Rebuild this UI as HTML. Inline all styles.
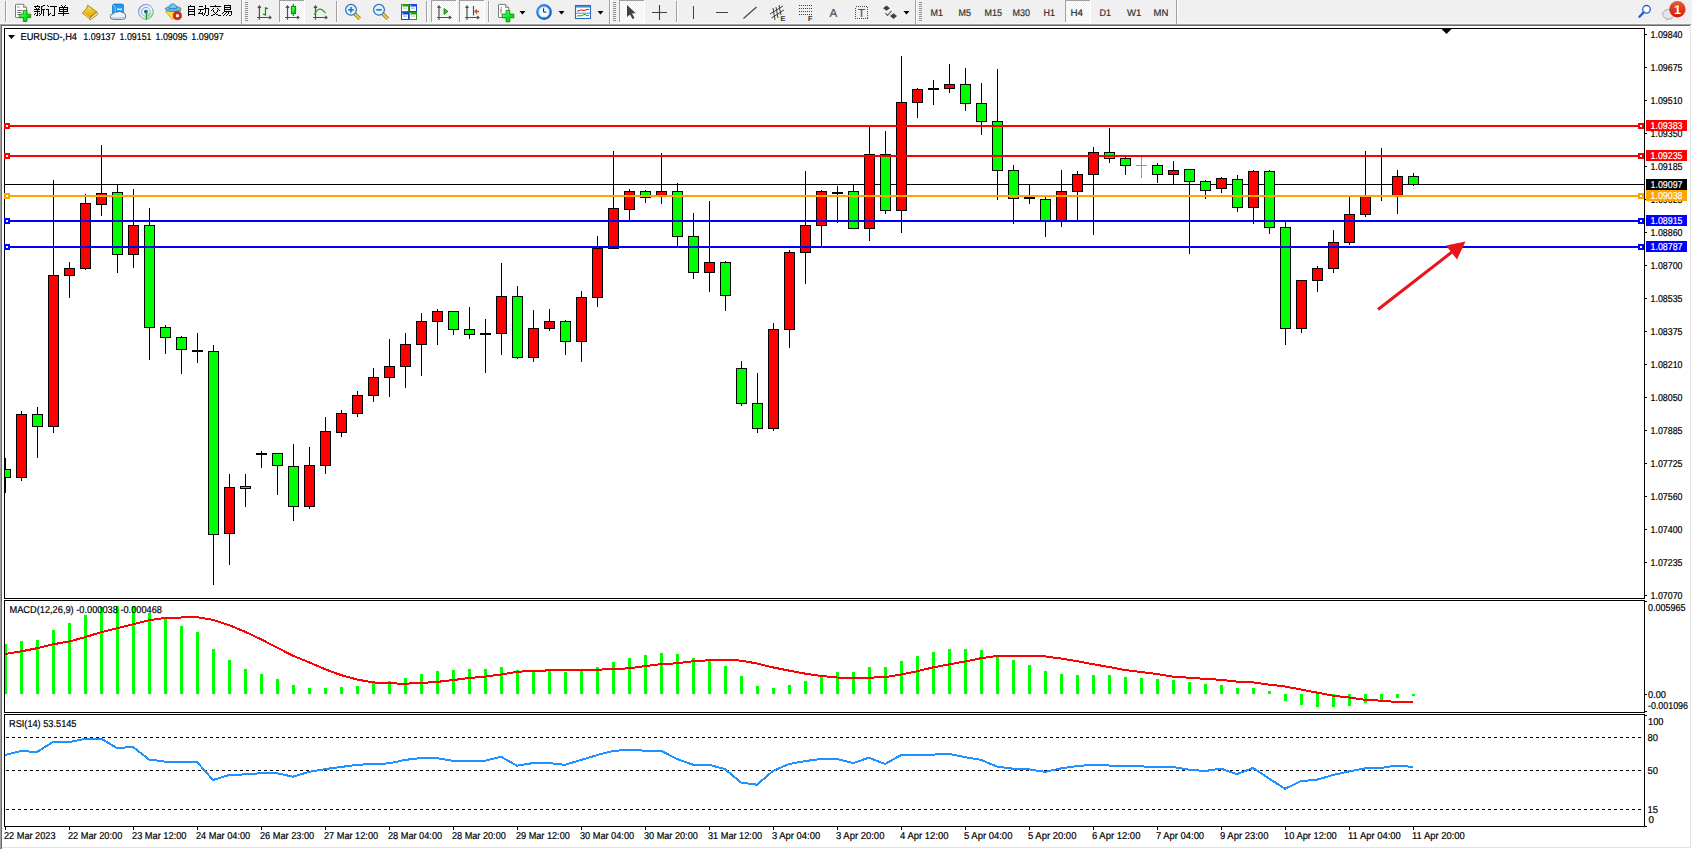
<!DOCTYPE html>
<html><head><meta charset="utf-8"><title>EURUSD H4</title>
<style>
html,body{margin:0;padding:0;width:1692px;height:849px;overflow:hidden;background:#f0f0f0;}
svg text{font-family:"Liberation Sans",sans-serif;}
</style></head><body>
<svg width="1692" height="849" viewBox="0 0 1692 849" shape-rendering="crispEdges" text-rendering="geometricPrecision" style="position:absolute;left:0;top:0">
<rect x="0" y="0" width="1692" height="849" fill="#f0f0f0"/>
<rect x="0" y="23" width="1692" height="1" fill="#f7f7f7"/>
<rect x="0" y="24" width="1691" height="1" fill="#a0a0a0"/>
<rect x="1" y="25" width="1689" height="1" fill="#696969"/>
<rect x="0" y="25" width="1" height="824" fill="#a0a0a0"/>
<rect x="1" y="26" width="1" height="823" fill="#696969"/>
<rect x="2" y="26" width="1688" height="821" fill="#ffffff"/>
<rect x="1690" y="26" width="1" height="822" fill="#e3e3e3"/>
<rect x="2" y="847" width="1689" height="1" fill="#e3e3e3"/>
<rect x="1691" y="25" width="1" height="824" fill="#ffffff"/>
<rect x="2" y="848" width="1690" height="1" fill="#ffffff"/>
<rect x="4" y="28" width="1641" height="1" fill="#000"/>
<rect x="4" y="598" width="1641" height="1" fill="#000"/>
<rect x="4" y="28" width="1" height="571" fill="#000"/>
<rect x="1644" y="28" width="1" height="571" fill="#000"/>
<rect x="4" y="600" width="1641" height="1" fill="#000"/>
<rect x="4" y="712" width="1641" height="1" fill="#000"/>
<rect x="4" y="600" width="1" height="113" fill="#000"/>
<rect x="1644" y="600" width="1" height="113" fill="#000"/>
<rect x="4" y="714" width="1641" height="1" fill="#000"/>
<rect x="4" y="826" width="1641" height="1" fill="#000"/>
<rect x="4" y="714" width="1" height="113" fill="#000"/>
<rect x="1644" y="714" width="1" height="113" fill="#000"/>
<defs><clipPath id="cm"><rect x="5" y="29" width="1639" height="569"/></clipPath><clipPath id="cd"><rect x="5" y="601" width="1639" height="111"/></clipPath><clipPath id="cr"><rect x="5" y="715" width="1639" height="111"/></clipPath></defs>
<g clip-path="url(#cm)">
<rect x="5" y="184" width="1639" height="1" fill="#000"/>
<rect x="5" y="458" width="1" height="35" fill="#000"/>
<rect x="0" y="469" width="11" height="9" fill="#000"/>
<rect x="1" y="470" width="9" height="7" fill="#00ff00"/>
<rect x="21" y="411" width="1" height="70" fill="#000"/>
<rect x="16" y="414" width="11" height="64" fill="#000"/>
<rect x="17" y="415" width="9" height="62" fill="#ff0000"/>
<rect x="37" y="407" width="1" height="51" fill="#000"/>
<rect x="32" y="414" width="11" height="13" fill="#000"/>
<rect x="33" y="415" width="9" height="11" fill="#00ff00"/>
<rect x="53" y="180" width="1" height="253" fill="#000"/>
<rect x="48" y="275" width="11" height="152" fill="#000"/>
<rect x="49" y="276" width="9" height="150" fill="#ff0000"/>
<rect x="69" y="262" width="1" height="36" fill="#000"/>
<rect x="64" y="268" width="11" height="8" fill="#000"/>
<rect x="65" y="269" width="9" height="6" fill="#ff0000"/>
<rect x="85" y="194" width="1" height="76" fill="#000"/>
<rect x="80" y="203" width="11" height="66" fill="#000"/>
<rect x="81" y="204" width="9" height="64" fill="#ff0000"/>
<rect x="101" y="145" width="1" height="71" fill="#000"/>
<rect x="96" y="193" width="11" height="12" fill="#000"/>
<rect x="97" y="194" width="9" height="10" fill="#ff0000"/>
<rect x="117" y="184" width="1" height="89" fill="#000"/>
<rect x="112" y="192" width="11" height="63" fill="#000"/>
<rect x="113" y="193" width="9" height="61" fill="#00ff00"/>
<rect x="133" y="189" width="1" height="79" fill="#000"/>
<rect x="128" y="225" width="11" height="30" fill="#000"/>
<rect x="129" y="226" width="9" height="28" fill="#ff0000"/>
<rect x="149" y="208" width="1" height="152" fill="#000"/>
<rect x="144" y="225" width="11" height="103" fill="#000"/>
<rect x="145" y="226" width="9" height="101" fill="#00ff00"/>
<rect x="165" y="325" width="1" height="29" fill="#000"/>
<rect x="160" y="327" width="11" height="11" fill="#000"/>
<rect x="161" y="328" width="9" height="9" fill="#00ff00"/>
<rect x="181" y="336" width="1" height="38" fill="#000"/>
<rect x="176" y="337" width="11" height="13" fill="#000"/>
<rect x="177" y="338" width="9" height="11" fill="#00ff00"/>
<rect x="197" y="333" width="1" height="30" fill="#000"/>
<rect x="192" y="350" width="11" height="2" fill="#000"/>
<rect x="213" y="345" width="1" height="240" fill="#000"/>
<rect x="208" y="351" width="11" height="184" fill="#000"/>
<rect x="209" y="352" width="9" height="182" fill="#00ff00"/>
<rect x="229" y="474" width="1" height="91" fill="#000"/>
<rect x="224" y="487" width="11" height="47" fill="#000"/>
<rect x="225" y="488" width="9" height="45" fill="#ff0000"/>
<rect x="245" y="474" width="1" height="33" fill="#000"/>
<rect x="240" y="486" width="11" height="3" fill="#000"/>
<rect x="241" y="487" width="9" height="1" fill="#00ff00"/>
<rect x="261" y="451" width="1" height="17" fill="#000"/>
<rect x="256" y="453" width="11" height="2" fill="#000"/>
<rect x="277" y="453" width="1" height="42" fill="#000"/>
<rect x="272" y="453" width="11" height="13" fill="#000"/>
<rect x="273" y="454" width="9" height="11" fill="#00ff00"/>
<rect x="293" y="444" width="1" height="77" fill="#000"/>
<rect x="288" y="466" width="11" height="41" fill="#000"/>
<rect x="289" y="467" width="9" height="39" fill="#00ff00"/>
<rect x="309" y="447" width="1" height="62" fill="#000"/>
<rect x="304" y="465" width="11" height="42" fill="#000"/>
<rect x="305" y="466" width="9" height="40" fill="#ff0000"/>
<rect x="325" y="417" width="1" height="57" fill="#000"/>
<rect x="320" y="431" width="11" height="35" fill="#000"/>
<rect x="321" y="432" width="9" height="33" fill="#ff0000"/>
<rect x="341" y="410" width="1" height="27" fill="#000"/>
<rect x="336" y="413" width="11" height="20" fill="#000"/>
<rect x="337" y="414" width="9" height="18" fill="#ff0000"/>
<rect x="357" y="391" width="1" height="26" fill="#000"/>
<rect x="352" y="395" width="11" height="19" fill="#000"/>
<rect x="353" y="396" width="9" height="17" fill="#ff0000"/>
<rect x="373" y="368" width="1" height="34" fill="#000"/>
<rect x="368" y="377" width="11" height="19" fill="#000"/>
<rect x="369" y="378" width="9" height="17" fill="#ff0000"/>
<rect x="389" y="339" width="1" height="58" fill="#000"/>
<rect x="384" y="366" width="11" height="12" fill="#000"/>
<rect x="385" y="367" width="9" height="10" fill="#ff0000"/>
<rect x="405" y="333" width="1" height="55" fill="#000"/>
<rect x="400" y="344" width="11" height="23" fill="#000"/>
<rect x="401" y="345" width="9" height="21" fill="#ff0000"/>
<rect x="421" y="313" width="1" height="63" fill="#000"/>
<rect x="416" y="321" width="11" height="24" fill="#000"/>
<rect x="417" y="322" width="9" height="22" fill="#ff0000"/>
<rect x="437" y="309" width="1" height="36" fill="#000"/>
<rect x="432" y="311" width="11" height="11" fill="#000"/>
<rect x="433" y="312" width="9" height="9" fill="#ff0000"/>
<rect x="453" y="311" width="1" height="24" fill="#000"/>
<rect x="448" y="311" width="11" height="19" fill="#000"/>
<rect x="449" y="312" width="9" height="17" fill="#00ff00"/>
<rect x="469" y="307" width="1" height="32" fill="#000"/>
<rect x="464" y="329" width="11" height="6" fill="#000"/>
<rect x="465" y="330" width="9" height="4" fill="#00ff00"/>
<rect x="485" y="319" width="1" height="54" fill="#000"/>
<rect x="480" y="333" width="11" height="2" fill="#000"/>
<rect x="501" y="263" width="1" height="92" fill="#000"/>
<rect x="496" y="296" width="11" height="38" fill="#000"/>
<rect x="497" y="297" width="9" height="36" fill="#ff0000"/>
<rect x="517" y="286" width="1" height="73" fill="#000"/>
<rect x="512" y="296" width="11" height="62" fill="#000"/>
<rect x="513" y="297" width="9" height="60" fill="#00ff00"/>
<rect x="533" y="310" width="1" height="52" fill="#000"/>
<rect x="528" y="328" width="11" height="30" fill="#000"/>
<rect x="529" y="329" width="9" height="28" fill="#ff0000"/>
<rect x="549" y="309" width="1" height="22" fill="#000"/>
<rect x="544" y="321" width="11" height="8" fill="#000"/>
<rect x="545" y="322" width="9" height="6" fill="#ff0000"/>
<rect x="565" y="320" width="1" height="35" fill="#000"/>
<rect x="560" y="321" width="11" height="21" fill="#000"/>
<rect x="561" y="322" width="9" height="19" fill="#00ff00"/>
<rect x="581" y="291" width="1" height="71" fill="#000"/>
<rect x="576" y="297" width="11" height="45" fill="#000"/>
<rect x="577" y="298" width="9" height="43" fill="#ff0000"/>
<rect x="597" y="236" width="1" height="71" fill="#000"/>
<rect x="592" y="248" width="11" height="50" fill="#000"/>
<rect x="593" y="249" width="9" height="48" fill="#ff0000"/>
<rect x="613" y="151" width="1" height="98" fill="#000"/>
<rect x="608" y="208" width="11" height="41" fill="#000"/>
<rect x="609" y="209" width="9" height="39" fill="#ff0000"/>
<rect x="629" y="189" width="1" height="32" fill="#000"/>
<rect x="624" y="191" width="11" height="19" fill="#000"/>
<rect x="625" y="192" width="9" height="17" fill="#ff0000"/>
<rect x="645" y="190" width="1" height="13" fill="#000"/>
<rect x="640" y="191" width="11" height="7" fill="#000"/>
<rect x="641" y="192" width="9" height="5" fill="#00ff00"/>
<rect x="661" y="153" width="1" height="51" fill="#000"/>
<rect x="656" y="191" width="11" height="5" fill="#000"/>
<rect x="657" y="192" width="9" height="3" fill="#ff0000"/>
<rect x="677" y="183" width="1" height="64" fill="#000"/>
<rect x="672" y="191" width="11" height="46" fill="#000"/>
<rect x="673" y="192" width="9" height="44" fill="#00ff00"/>
<rect x="693" y="213" width="1" height="66" fill="#000"/>
<rect x="688" y="236" width="11" height="37" fill="#000"/>
<rect x="689" y="237" width="9" height="35" fill="#00ff00"/>
<rect x="709" y="201" width="1" height="91" fill="#000"/>
<rect x="704" y="262" width="11" height="11" fill="#000"/>
<rect x="705" y="263" width="9" height="9" fill="#ff0000"/>
<rect x="725" y="261" width="1" height="50" fill="#000"/>
<rect x="720" y="262" width="11" height="34" fill="#000"/>
<rect x="721" y="263" width="9" height="32" fill="#00ff00"/>
<rect x="741" y="361" width="1" height="45" fill="#000"/>
<rect x="736" y="368" width="11" height="36" fill="#000"/>
<rect x="737" y="369" width="9" height="34" fill="#00ff00"/>
<rect x="757" y="373" width="1" height="60" fill="#000"/>
<rect x="752" y="403" width="11" height="26" fill="#000"/>
<rect x="753" y="404" width="9" height="24" fill="#00ff00"/>
<rect x="773" y="323" width="1" height="108" fill="#000"/>
<rect x="768" y="329" width="11" height="100" fill="#000"/>
<rect x="769" y="330" width="9" height="98" fill="#ff0000"/>
<rect x="789" y="250" width="1" height="98" fill="#000"/>
<rect x="784" y="252" width="11" height="78" fill="#000"/>
<rect x="785" y="253" width="9" height="76" fill="#ff0000"/>
<rect x="805" y="171" width="1" height="113" fill="#000"/>
<rect x="800" y="225" width="11" height="28" fill="#000"/>
<rect x="801" y="226" width="9" height="26" fill="#ff0000"/>
<rect x="821" y="190" width="1" height="57" fill="#000"/>
<rect x="816" y="191" width="11" height="35" fill="#000"/>
<rect x="817" y="192" width="9" height="33" fill="#ff0000"/>
<rect x="837" y="186" width="1" height="37" fill="#000"/>
<rect x="832" y="192" width="11" height="2" fill="#000"/>
<rect x="853" y="184" width="1" height="45" fill="#000"/>
<rect x="848" y="191" width="11" height="38" fill="#000"/>
<rect x="849" y="192" width="9" height="36" fill="#00ff00"/>
<rect x="869" y="126" width="1" height="115" fill="#000"/>
<rect x="864" y="154" width="11" height="75" fill="#000"/>
<rect x="865" y="155" width="9" height="73" fill="#ff0000"/>
<rect x="885" y="131" width="1" height="83" fill="#000"/>
<rect x="880" y="154" width="11" height="57" fill="#000"/>
<rect x="881" y="155" width="9" height="55" fill="#00ff00"/>
<rect x="901" y="56" width="1" height="177" fill="#000"/>
<rect x="896" y="102" width="11" height="109" fill="#000"/>
<rect x="897" y="103" width="9" height="107" fill="#ff0000"/>
<rect x="917" y="88" width="1" height="30" fill="#000"/>
<rect x="912" y="89" width="11" height="14" fill="#000"/>
<rect x="913" y="90" width="9" height="12" fill="#ff0000"/>
<rect x="933" y="80" width="1" height="25" fill="#000"/>
<rect x="928" y="88" width="11" height="2" fill="#000"/>
<rect x="949" y="64" width="1" height="29" fill="#000"/>
<rect x="944" y="84" width="11" height="5" fill="#000"/>
<rect x="945" y="85" width="9" height="3" fill="#ff0000"/>
<rect x="965" y="68" width="1" height="43" fill="#000"/>
<rect x="960" y="84" width="11" height="20" fill="#000"/>
<rect x="961" y="85" width="9" height="18" fill="#00ff00"/>
<rect x="981" y="83" width="1" height="52" fill="#000"/>
<rect x="976" y="103" width="11" height="19" fill="#000"/>
<rect x="977" y="104" width="9" height="17" fill="#00ff00"/>
<rect x="997" y="69" width="1" height="131" fill="#000"/>
<rect x="992" y="121" width="11" height="50" fill="#000"/>
<rect x="993" y="122" width="9" height="48" fill="#00ff00"/>
<rect x="1013" y="165" width="1" height="59" fill="#000"/>
<rect x="1008" y="170" width="11" height="29" fill="#000"/>
<rect x="1009" y="171" width="9" height="27" fill="#00ff00"/>
<rect x="1029" y="184" width="1" height="20" fill="#000"/>
<rect x="1024" y="197" width="11" height="2" fill="#000"/>
<rect x="1045" y="197" width="1" height="40" fill="#000"/>
<rect x="1040" y="199" width="11" height="22" fill="#000"/>
<rect x="1041" y="200" width="9" height="20" fill="#00ff00"/>
<rect x="1061" y="170" width="1" height="57" fill="#000"/>
<rect x="1056" y="191" width="11" height="30" fill="#000"/>
<rect x="1057" y="192" width="9" height="28" fill="#ff0000"/>
<rect x="1077" y="171" width="1" height="50" fill="#000"/>
<rect x="1072" y="174" width="11" height="18" fill="#000"/>
<rect x="1073" y="175" width="9" height="16" fill="#ff0000"/>
<rect x="1093" y="147" width="1" height="88" fill="#000"/>
<rect x="1088" y="152" width="11" height="23" fill="#000"/>
<rect x="1089" y="153" width="9" height="21" fill="#ff0000"/>
<rect x="1109" y="128" width="1" height="35" fill="#000"/>
<rect x="1104" y="152" width="11" height="7" fill="#000"/>
<rect x="1105" y="153" width="9" height="5" fill="#00ff00"/>
<rect x="1125" y="157" width="1" height="18" fill="#000"/>
<rect x="1120" y="158" width="11" height="8" fill="#000"/>
<rect x="1121" y="159" width="9" height="6" fill="#00ff00"/>
<rect x="1141" y="157" width="1" height="21" fill="#00ff00"/>
<rect x="1136" y="165" width="11" height="1" fill="#00ff00"/>
<rect x="1157" y="163" width="1" height="20" fill="#000"/>
<rect x="1152" y="165" width="11" height="10" fill="#000"/>
<rect x="1153" y="166" width="9" height="8" fill="#00ff00"/>
<rect x="1173" y="161" width="1" height="24" fill="#000"/>
<rect x="1168" y="170" width="11" height="5" fill="#000"/>
<rect x="1169" y="171" width="9" height="3" fill="#ff0000"/>
<rect x="1189" y="169" width="1" height="85" fill="#000"/>
<rect x="1184" y="169" width="11" height="13" fill="#000"/>
<rect x="1185" y="170" width="9" height="11" fill="#00ff00"/>
<rect x="1205" y="180" width="1" height="19" fill="#000"/>
<rect x="1200" y="181" width="11" height="10" fill="#000"/>
<rect x="1201" y="182" width="9" height="8" fill="#00ff00"/>
<rect x="1221" y="177" width="1" height="16" fill="#000"/>
<rect x="1216" y="178" width="11" height="11" fill="#000"/>
<rect x="1217" y="179" width="9" height="9" fill="#ff0000"/>
<rect x="1237" y="175" width="1" height="37" fill="#000"/>
<rect x="1232" y="179" width="11" height="29" fill="#000"/>
<rect x="1233" y="180" width="9" height="27" fill="#00ff00"/>
<rect x="1253" y="170" width="1" height="54" fill="#000"/>
<rect x="1248" y="171" width="11" height="37" fill="#000"/>
<rect x="1249" y="172" width="9" height="35" fill="#ff0000"/>
<rect x="1269" y="170" width="1" height="64" fill="#000"/>
<rect x="1264" y="171" width="11" height="57" fill="#000"/>
<rect x="1265" y="172" width="9" height="55" fill="#00ff00"/>
<rect x="1285" y="221" width="1" height="124" fill="#000"/>
<rect x="1280" y="227" width="11" height="102" fill="#000"/>
<rect x="1281" y="228" width="9" height="100" fill="#00ff00"/>
<rect x="1301" y="280" width="1" height="53" fill="#000"/>
<rect x="1296" y="280" width="11" height="49" fill="#000"/>
<rect x="1297" y="281" width="9" height="47" fill="#ff0000"/>
<rect x="1317" y="266" width="1" height="26" fill="#000"/>
<rect x="1312" y="268" width="11" height="13" fill="#000"/>
<rect x="1313" y="269" width="9" height="11" fill="#ff0000"/>
<rect x="1333" y="230" width="1" height="43" fill="#000"/>
<rect x="1328" y="242" width="11" height="27" fill="#000"/>
<rect x="1329" y="243" width="9" height="25" fill="#ff0000"/>
<rect x="1349" y="197" width="1" height="48" fill="#000"/>
<rect x="1344" y="214" width="11" height="29" fill="#000"/>
<rect x="1345" y="215" width="9" height="27" fill="#ff0000"/>
<rect x="1365" y="151" width="1" height="66" fill="#000"/>
<rect x="1360" y="196" width="11" height="19" fill="#000"/>
<rect x="1361" y="197" width="9" height="17" fill="#ff0000"/>
<rect x="1381" y="148" width="1" height="53" fill="#000"/>
<rect x="1376" y="195" width="11" height="2" fill="#000"/>
<rect x="1397" y="170" width="1" height="44" fill="#000"/>
<rect x="1392" y="176" width="11" height="20" fill="#000"/>
<rect x="1393" y="177" width="9" height="18" fill="#ff0000"/>
<rect x="1413" y="173" width="1" height="13" fill="#000"/>
<rect x="1408" y="176" width="11" height="9" fill="#000"/>
<rect x="1409" y="177" width="9" height="7" fill="#00ff00"/>
<rect x="5" y="125" width="1639" height="2" fill="#ff0000"/>
<rect x="5" y="155" width="1639" height="2" fill="#ff0000"/>
<rect x="5" y="195" width="1639" height="2" fill="#ffa500"/>
<rect x="5" y="220" width="1639" height="2" fill="#0000ff"/>
<rect x="5" y="246" width="1639" height="2" fill="#0000ff"/>
</g>
<rect x="4" y="123" width="6" height="6" fill="#ff0000"/>
<rect x="6" y="125" width="2" height="2" fill="#fff"/>
<rect x="1638" y="123" width="6" height="6" fill="#ff0000"/>
<rect x="1640" y="125" width="2" height="2" fill="#fff"/>
<rect x="4" y="153" width="6" height="6" fill="#ff0000"/>
<rect x="6" y="155" width="2" height="2" fill="#fff"/>
<rect x="1638" y="153" width="6" height="6" fill="#ff0000"/>
<rect x="1640" y="155" width="2" height="2" fill="#fff"/>
<rect x="4" y="193" width="6" height="6" fill="#ffa500"/>
<rect x="6" y="195" width="2" height="2" fill="#fff"/>
<rect x="1638" y="193" width="6" height="6" fill="#ffa500"/>
<rect x="1640" y="195" width="2" height="2" fill="#fff"/>
<rect x="4" y="218" width="6" height="6" fill="#0000ff"/>
<rect x="6" y="220" width="2" height="2" fill="#fff"/>
<rect x="1638" y="218" width="6" height="6" fill="#0000ff"/>
<rect x="1640" y="220" width="2" height="2" fill="#fff"/>
<rect x="4" y="244" width="6" height="6" fill="#0000ff"/>
<rect x="6" y="246" width="2" height="2" fill="#fff"/>
<rect x="1638" y="244" width="6" height="6" fill="#0000ff"/>
<rect x="1640" y="246" width="2" height="2" fill="#fff"/>
<path d="M1441.5 29 L1451.5 29 L1446.5 34 Z" fill="#000" shape-rendering="auto"/>
<g shape-rendering="auto"><line x1="1378" y1="309.5" x2="1452" y2="252" stroke="#e8141c" stroke-width="3"/><path d="M1465.5 241.5 L1446 245.5 L1457 259.5 Z" fill="#e8141c"/></g>
<rect x="1645" y="34" width="2" height="1" fill="#000"/>
<text x="1650.5" y="38" font-family="Liberation Sans" font-size="10" fill="#000" stroke="#000" stroke-width="0.2" textLength="32" lengthAdjust="spacingAndGlyphs" >1.09840</text>
<rect x="1645" y="67" width="2" height="1" fill="#000"/>
<text x="1650.5" y="71" font-family="Liberation Sans" font-size="10" fill="#000" stroke="#000" stroke-width="0.2" textLength="32" lengthAdjust="spacingAndGlyphs" >1.09675</text>
<rect x="1645" y="100" width="2" height="1" fill="#000"/>
<text x="1650.5" y="104" font-family="Liberation Sans" font-size="10" fill="#000" stroke="#000" stroke-width="0.2" textLength="32" lengthAdjust="spacingAndGlyphs" >1.09510</text>
<rect x="1645" y="133" width="2" height="1" fill="#000"/>
<text x="1650.5" y="137" font-family="Liberation Sans" font-size="10" fill="#000" stroke="#000" stroke-width="0.2" textLength="32" lengthAdjust="spacingAndGlyphs" >1.09350</text>
<rect x="1645" y="166" width="2" height="1" fill="#000"/>
<text x="1650.5" y="170" font-family="Liberation Sans" font-size="10" fill="#000" stroke="#000" stroke-width="0.2" textLength="32" lengthAdjust="spacingAndGlyphs" >1.09185</text>
<rect x="1645" y="199" width="2" height="1" fill="#000"/>
<text x="1650.5" y="203" font-family="Liberation Sans" font-size="10" fill="#000" stroke="#000" stroke-width="0.2" textLength="32" lengthAdjust="spacingAndGlyphs" >1.09025</text>
<rect x="1645" y="232" width="2" height="1" fill="#000"/>
<text x="1650.5" y="236" font-family="Liberation Sans" font-size="10" fill="#000" stroke="#000" stroke-width="0.2" textLength="32" lengthAdjust="spacingAndGlyphs" >1.08860</text>
<rect x="1645" y="265" width="2" height="1" fill="#000"/>
<text x="1650.5" y="269" font-family="Liberation Sans" font-size="10" fill="#000" stroke="#000" stroke-width="0.2" textLength="32" lengthAdjust="spacingAndGlyphs" >1.08700</text>
<rect x="1645" y="298" width="2" height="1" fill="#000"/>
<text x="1650.5" y="302" font-family="Liberation Sans" font-size="10" fill="#000" stroke="#000" stroke-width="0.2" textLength="32" lengthAdjust="spacingAndGlyphs" >1.08535</text>
<rect x="1645" y="331" width="2" height="1" fill="#000"/>
<text x="1650.5" y="335" font-family="Liberation Sans" font-size="10" fill="#000" stroke="#000" stroke-width="0.2" textLength="32" lengthAdjust="spacingAndGlyphs" >1.08375</text>
<rect x="1645" y="364" width="2" height="1" fill="#000"/>
<text x="1650.5" y="368" font-family="Liberation Sans" font-size="10" fill="#000" stroke="#000" stroke-width="0.2" textLength="32" lengthAdjust="spacingAndGlyphs" >1.08210</text>
<rect x="1645" y="397" width="2" height="1" fill="#000"/>
<text x="1650.5" y="401" font-family="Liberation Sans" font-size="10" fill="#000" stroke="#000" stroke-width="0.2" textLength="32" lengthAdjust="spacingAndGlyphs" >1.08050</text>
<rect x="1645" y="430" width="2" height="1" fill="#000"/>
<text x="1650.5" y="434" font-family="Liberation Sans" font-size="10" fill="#000" stroke="#000" stroke-width="0.2" textLength="32" lengthAdjust="spacingAndGlyphs" >1.07885</text>
<rect x="1645" y="463" width="2" height="1" fill="#000"/>
<text x="1650.5" y="467" font-family="Liberation Sans" font-size="10" fill="#000" stroke="#000" stroke-width="0.2" textLength="32" lengthAdjust="spacingAndGlyphs" >1.07725</text>
<rect x="1645" y="496" width="2" height="1" fill="#000"/>
<text x="1650.5" y="500" font-family="Liberation Sans" font-size="10" fill="#000" stroke="#000" stroke-width="0.2" textLength="32" lengthAdjust="spacingAndGlyphs" >1.07560</text>
<rect x="1645" y="529" width="2" height="1" fill="#000"/>
<text x="1650.5" y="533" font-family="Liberation Sans" font-size="10" fill="#000" stroke="#000" stroke-width="0.2" textLength="32" lengthAdjust="spacingAndGlyphs" >1.07400</text>
<rect x="1645" y="562" width="2" height="1" fill="#000"/>
<text x="1650.5" y="566" font-family="Liberation Sans" font-size="10" fill="#000" stroke="#000" stroke-width="0.2" textLength="32" lengthAdjust="spacingAndGlyphs" >1.07235</text>
<rect x="1645" y="595" width="2" height="1" fill="#000"/>
<text x="1650.5" y="599" font-family="Liberation Sans" font-size="10" fill="#000" stroke="#000" stroke-width="0.2" textLength="32" lengthAdjust="spacingAndGlyphs" >1.07070</text>
<rect x="1646" y="120" width="41" height="11" fill="#ff0000"/>
<text x="1650.5" y="129" font-family="Liberation Sans" font-size="10" fill="#fff" stroke="#fff" stroke-width="0.2" textLength="32" lengthAdjust="spacingAndGlyphs" >1.09383</text>
<rect x="1646" y="150" width="41" height="11" fill="#ff0000"/>
<text x="1650.5" y="159" font-family="Liberation Sans" font-size="10" fill="#fff" stroke="#fff" stroke-width="0.2" textLength="32" lengthAdjust="spacingAndGlyphs" >1.09235</text>
<rect x="1646" y="179" width="41" height="11" fill="#000"/>
<text x="1650.5" y="188" font-family="Liberation Sans" font-size="10" fill="#fff" stroke="#fff" stroke-width="0.2" textLength="32" lengthAdjust="spacingAndGlyphs" >1.09097</text>
<rect x="1646" y="190" width="41" height="11" fill="#ffa500"/>
<text x="1650.5" y="199" font-family="Liberation Sans" font-size="10" fill="#fff" stroke="#fff" stroke-width="0.2" textLength="32" lengthAdjust="spacingAndGlyphs" >1.09038</text>
<rect x="1646" y="215" width="41" height="11" fill="#0000ff"/>
<text x="1650.5" y="224" font-family="Liberation Sans" font-size="10" fill="#fff" stroke="#fff" stroke-width="0.2" textLength="32" lengthAdjust="spacingAndGlyphs" >1.08915</text>
<rect x="1646" y="241" width="41" height="11" fill="#0000ff"/>
<text x="1650.5" y="250" font-family="Liberation Sans" font-size="10" fill="#fff" stroke="#fff" stroke-width="0.2" textLength="32" lengthAdjust="spacingAndGlyphs" >1.08787</text>
<g clip-path="url(#cd)">
<rect x="4" y="644" width="3" height="50" fill="#00ff00"/>
<rect x="20" y="641" width="3" height="53" fill="#00ff00"/>
<rect x="36" y="640" width="3" height="54" fill="#00ff00"/>
<rect x="52" y="630" width="3" height="64" fill="#00ff00"/>
<rect x="68" y="623" width="3" height="71" fill="#00ff00"/>
<rect x="84" y="615" width="3" height="79" fill="#00ff00"/>
<rect x="100" y="607" width="3" height="87" fill="#00ff00"/>
<rect x="116" y="606" width="3" height="88" fill="#00ff00"/>
<rect x="132" y="606" width="3" height="88" fill="#00ff00"/>
<rect x="148" y="613" width="3" height="81" fill="#00ff00"/>
<rect x="164" y="619" width="3" height="75" fill="#00ff00"/>
<rect x="180" y="626" width="3" height="68" fill="#00ff00"/>
<rect x="196" y="632" width="3" height="62" fill="#00ff00"/>
<rect x="212" y="649" width="3" height="45" fill="#00ff00"/>
<rect x="228" y="660" width="3" height="34" fill="#00ff00"/>
<rect x="244" y="669" width="3" height="25" fill="#00ff00"/>
<rect x="260" y="674" width="3" height="20" fill="#00ff00"/>
<rect x="276" y="679" width="3" height="15" fill="#00ff00"/>
<rect x="292" y="685" width="3" height="9" fill="#00ff00"/>
<rect x="308" y="688" width="3" height="6" fill="#00ff00"/>
<rect x="324" y="688" width="3" height="6" fill="#00ff00"/>
<rect x="340" y="687" width="3" height="7" fill="#00ff00"/>
<rect x="356" y="686" width="3" height="8" fill="#00ff00"/>
<rect x="372" y="682" width="3" height="12" fill="#00ff00"/>
<rect x="388" y="681" width="3" height="13" fill="#00ff00"/>
<rect x="404" y="678" width="3" height="16" fill="#00ff00"/>
<rect x="420" y="674" width="3" height="20" fill="#00ff00"/>
<rect x="436" y="671" width="3" height="23" fill="#00ff00"/>
<rect x="452" y="670" width="3" height="24" fill="#00ff00"/>
<rect x="468" y="669" width="3" height="25" fill="#00ff00"/>
<rect x="484" y="669" width="3" height="25" fill="#00ff00"/>
<rect x="500" y="667" width="3" height="27" fill="#00ff00"/>
<rect x="516" y="670" width="3" height="24" fill="#00ff00"/>
<rect x="532" y="670" width="3" height="24" fill="#00ff00"/>
<rect x="548" y="671" width="3" height="23" fill="#00ff00"/>
<rect x="564" y="672" width="3" height="22" fill="#00ff00"/>
<rect x="580" y="671" width="3" height="23" fill="#00ff00"/>
<rect x="596" y="667" width="3" height="27" fill="#00ff00"/>
<rect x="612" y="662" width="3" height="32" fill="#00ff00"/>
<rect x="628" y="658" width="3" height="36" fill="#00ff00"/>
<rect x="644" y="655" width="3" height="39" fill="#00ff00"/>
<rect x="660" y="653" width="3" height="41" fill="#00ff00"/>
<rect x="676" y="654" width="3" height="40" fill="#00ff00"/>
<rect x="692" y="658" width="3" height="36" fill="#00ff00"/>
<rect x="708" y="661" width="3" height="33" fill="#00ff00"/>
<rect x="724" y="666" width="3" height="28" fill="#00ff00"/>
<rect x="740" y="676" width="3" height="18" fill="#00ff00"/>
<rect x="756" y="686" width="3" height="8" fill="#00ff00"/>
<rect x="772" y="688" width="3" height="6" fill="#00ff00"/>
<rect x="788" y="685" width="3" height="9" fill="#00ff00"/>
<rect x="804" y="681" width="3" height="13" fill="#00ff00"/>
<rect x="820" y="676" width="3" height="18" fill="#00ff00"/>
<rect x="836" y="672" width="3" height="22" fill="#00ff00"/>
<rect x="852" y="672" width="3" height="22" fill="#00ff00"/>
<rect x="868" y="667" width="3" height="27" fill="#00ff00"/>
<rect x="884" y="667" width="3" height="27" fill="#00ff00"/>
<rect x="900" y="661" width="3" height="33" fill="#00ff00"/>
<rect x="916" y="656" width="3" height="38" fill="#00ff00"/>
<rect x="932" y="652" width="3" height="42" fill="#00ff00"/>
<rect x="948" y="649" width="3" height="45" fill="#00ff00"/>
<rect x="964" y="649" width="3" height="45" fill="#00ff00"/>
<rect x="980" y="650" width="3" height="44" fill="#00ff00"/>
<rect x="996" y="655" width="3" height="39" fill="#00ff00"/>
<rect x="1012" y="660" width="3" height="34" fill="#00ff00"/>
<rect x="1028" y="665" width="3" height="29" fill="#00ff00"/>
<rect x="1044" y="671" width="3" height="23" fill="#00ff00"/>
<rect x="1060" y="674" width="3" height="20" fill="#00ff00"/>
<rect x="1076" y="675" width="3" height="19" fill="#00ff00"/>
<rect x="1092" y="675" width="3" height="19" fill="#00ff00"/>
<rect x="1108" y="675" width="3" height="19" fill="#00ff00"/>
<rect x="1124" y="677" width="3" height="17" fill="#00ff00"/>
<rect x="1140" y="678" width="3" height="16" fill="#00ff00"/>
<rect x="1156" y="679" width="3" height="15" fill="#00ff00"/>
<rect x="1172" y="680" width="3" height="14" fill="#00ff00"/>
<rect x="1188" y="682" width="3" height="12" fill="#00ff00"/>
<rect x="1204" y="684" width="3" height="10" fill="#00ff00"/>
<rect x="1220" y="685" width="3" height="9" fill="#00ff00"/>
<rect x="1236" y="688" width="3" height="6" fill="#00ff00"/>
<rect x="1252" y="688" width="3" height="6" fill="#00ff00"/>
<rect x="1268" y="691" width="3" height="3" fill="#00ff00"/>
<rect x="1284" y="694" width="3" height="7" fill="#00ff00"/>
<rect x="1300" y="694" width="3" height="11" fill="#00ff00"/>
<rect x="1316" y="694" width="3" height="13" fill="#00ff00"/>
<rect x="1332" y="694" width="3" height="13" fill="#00ff00"/>
<rect x="1348" y="694" width="3" height="12" fill="#00ff00"/>
<rect x="1364" y="694" width="3" height="9" fill="#00ff00"/>
<rect x="1380" y="694" width="3" height="6" fill="#00ff00"/>
<rect x="1396" y="694" width="3" height="4" fill="#00ff00"/>
<rect x="1412" y="694" width="3" height="2" fill="#00ff00"/>
<polyline points="5,654.0 21,651.4 37,648.2 53,644.3 69,641.5 85,637.2 101,632.2 117,628.3 133,624.3 149,620.2 165,618.0 181,617.5 197,617.2 213,619.8 229,625.1 245,631.7 261,639.3 277,647.5 293,655.8 309,662.2 325,669.2 341,675.1 357,679.5 373,682.4 389,683.3 405,683.7 421,683.0 437,681.9 453,680.1 469,678.0 485,676.6 501,674.5 517,671.8 533,670.9 549,670.4 565,670.0 581,670.0 597,669.7 613,669.1 629,668.3 645,666.1 661,664.2 677,663.3 693,661.2 709,660.3 725,659.9 741,660.6 757,663.5 773,667.4 789,670.6 805,673.6 821,675.9 837,677.5 853,677.7 869,677.7 885,677.1 901,674.5 917,671.3 933,667.4 949,664.4 965,661.5 981,658.2 997,656.0 1013,655.7 1029,655.7 1045,656.4 1061,658.5 1077,661.2 1093,664.2 1109,667.0 1125,670.0 1141,672.0 1157,674.0 1173,676.6 1189,677.7 1205,678.9 1221,679.8 1237,681.6 1253,682.4 1269,684.6 1285,686.5 1301,689.5 1317,692.6 1333,695.7 1349,697.5 1365,699.8 1381,700.7 1397,702.0 1413,702.0" fill="none" stroke="#ff0000" stroke-width="2" stroke-linejoin="round"/>
</g>
<text x="9.5" y="612.5" font-family="Liberation Sans" font-size="10" fill="#000" stroke="#000" stroke-width="0.2" textLength="152.5" lengthAdjust="spacingAndGlyphs" >MACD(12,26,9) -0.000038 -0.000468</text>
<rect x="1645" y="601" width="2" height="1" fill="#000"/>
<rect x="1645" y="694" width="2" height="1" fill="#000"/>
<rect x="1645" y="711" width="2" height="1" fill="#000"/>
<text x="1648" y="611" font-family="Liberation Sans" font-size="10" fill="#000" stroke="#000" stroke-width="0.2" textLength="37.5" lengthAdjust="spacingAndGlyphs" >0.005965</text>
<text x="1648" y="698" font-family="Liberation Sans" font-size="10" fill="#000" stroke="#000" stroke-width="0.2" textLength="18" lengthAdjust="spacingAndGlyphs" >0.00</text>
<text x="1648" y="709" font-family="Liberation Sans" font-size="10" fill="#000" stroke="#000" stroke-width="0.2" textLength="40" lengthAdjust="spacingAndGlyphs" >-0.001096</text>
<g clip-path="url(#cr)">
<line x1="6" y1="737.5" x2="1641" y2="737.5" stroke="#000" stroke-width="1" stroke-dasharray="3,3"/>
<line x1="6" y1="770.5" x2="1641" y2="770.5" stroke="#000" stroke-width="1" stroke-dasharray="3,3"/>
<line x1="6" y1="809.5" x2="1641" y2="809.5" stroke="#000" stroke-width="1" stroke-dasharray="3,3"/>
<polyline points="5,755.0 21,751.0 37,752.0 53,742.0 69,742.0 85,739.0 101,738.6 117,748.0 133,747.0 149,759.5 165,761.6 181,762.0 197,762.0 213,780.0 229,775.0 245,774.4 261,773.2 277,773.2 293,776.7 309,771.9 325,769.1 341,767.0 357,764.8 373,764.0 389,763.4 405,759.9 421,758.1 437,758.1 453,760.8 469,760.8 485,760.8 501,756.7 517,765.7 533,763.1 549,763.1 565,764.8 581,760.0 597,755.1 613,751.0 629,749.6 645,750.7 661,750.7 677,759.0 693,764.7 709,764.7 725,769.1 741,782.6 757,784.7 773,770.9 789,764.0 805,761.1 821,759.0 837,759.0 853,763.1 869,757.7 885,764.0 901,755.1 917,754.6 933,754.6 949,753.8 965,757.2 981,759.9 997,766.6 1013,768.7 1029,769.3 1045,771.9 1061,768.4 1077,766.1 1093,764.8 1109,765.5 1125,765.5 1141,766.4 1157,767.0 1173,767.0 1189,769.6 1205,771.0 1221,768.7 1237,774.1 1253,768.0 1269,778.5 1285,788.8 1301,781.1 1317,779.7 1333,775.0 1349,771.4 1365,768.4 1381,767.9 1397,765.5 1413,767.0" fill="none" stroke="#1e90ff" stroke-width="2" stroke-linejoin="round"/>
</g>
<text x="9" y="727" font-family="Liberation Sans" font-size="10" fill="#000" stroke="#000" stroke-width="0.2" textLength="67.5" lengthAdjust="spacingAndGlyphs" >RSI(14) 53.5145</text>
<rect x="1645" y="715" width="2" height="1" fill="#000"/>
<rect x="1645" y="826" width="2" height="1" fill="#000"/>
<text x="1648" y="724.5" font-family="Liberation Sans" font-size="10" fill="#000" stroke="#000" stroke-width="0.2" textLength="15.5" lengthAdjust="spacingAndGlyphs" >100</text>
<text x="1647.5" y="741" font-family="Liberation Sans" font-size="10" fill="#000" stroke="#000" stroke-width="0.2" textLength="10.5" lengthAdjust="spacingAndGlyphs" >80</text>
<text x="1647.5" y="773.5" font-family="Liberation Sans" font-size="10" fill="#000" stroke="#000" stroke-width="0.2" textLength="10.5" lengthAdjust="spacingAndGlyphs" >50</text>
<text x="1647.5" y="812.5" font-family="Liberation Sans" font-size="10" fill="#000" stroke="#000" stroke-width="0.2" textLength="10.5" lengthAdjust="spacingAndGlyphs" >15</text>
<text x="1648.5" y="823" font-family="Liberation Sans" font-size="10" fill="#000" stroke="#000" stroke-width="0.2" textLength="5.5" lengthAdjust="spacingAndGlyphs" >0</text>
<rect x="5" y="827" width="1" height="3" fill="#000"/>
<text x="4" y="839" font-family="Liberation Sans" font-size="10" fill="#000" stroke="#000" stroke-width="0.2" textLength="51.5" lengthAdjust="spacingAndGlyphs" >22 Mar 2023</text>
<rect x="69" y="827" width="1" height="3" fill="#000"/>
<text x="68" y="839" font-family="Liberation Sans" font-size="10" fill="#000" stroke="#000" stroke-width="0.2" textLength="54.3" lengthAdjust="spacingAndGlyphs" >22 Mar 20:00</text>
<rect x="133" y="827" width="1" height="3" fill="#000"/>
<text x="132" y="839" font-family="Liberation Sans" font-size="10" fill="#000" stroke="#000" stroke-width="0.2" textLength="54.5" lengthAdjust="spacingAndGlyphs" >23 Mar 12:00</text>
<rect x="197" y="827" width="1" height="3" fill="#000"/>
<text x="196" y="839" font-family="Liberation Sans" font-size="10" fill="#000" stroke="#000" stroke-width="0.2" textLength="54.2" lengthAdjust="spacingAndGlyphs" >24 Mar 04:00</text>
<rect x="261" y="827" width="1" height="3" fill="#000"/>
<text x="260" y="839" font-family="Liberation Sans" font-size="10" fill="#000" stroke="#000" stroke-width="0.2" textLength="54.2" lengthAdjust="spacingAndGlyphs" >26 Mar 23:00</text>
<rect x="325" y="827" width="1" height="3" fill="#000"/>
<text x="324" y="839" font-family="Liberation Sans" font-size="10" fill="#000" stroke="#000" stroke-width="0.2" textLength="54.1" lengthAdjust="spacingAndGlyphs" >27 Mar 12:00</text>
<rect x="389" y="827" width="1" height="3" fill="#000"/>
<text x="388" y="839" font-family="Liberation Sans" font-size="10" fill="#000" stroke="#000" stroke-width="0.2" textLength="54.1" lengthAdjust="spacingAndGlyphs" >28 Mar 04:00</text>
<rect x="453" y="827" width="1" height="3" fill="#000"/>
<text x="452" y="839" font-family="Liberation Sans" font-size="10" fill="#000" stroke="#000" stroke-width="0.2" textLength="53.8" lengthAdjust="spacingAndGlyphs" >28 Mar 20:00</text>
<rect x="517" y="827" width="1" height="3" fill="#000"/>
<text x="516" y="839" font-family="Liberation Sans" font-size="10" fill="#000" stroke="#000" stroke-width="0.2" textLength="53.8" lengthAdjust="spacingAndGlyphs" >29 Mar 12:00</text>
<rect x="581" y="827" width="1" height="3" fill="#000"/>
<text x="580" y="839" font-family="Liberation Sans" font-size="10" fill="#000" stroke="#000" stroke-width="0.2" textLength="54.1" lengthAdjust="spacingAndGlyphs" >30 Mar 04:00</text>
<rect x="645" y="827" width="1" height="3" fill="#000"/>
<text x="644" y="839" font-family="Liberation Sans" font-size="10" fill="#000" stroke="#000" stroke-width="0.2" textLength="53.8" lengthAdjust="spacingAndGlyphs" >30 Mar 20:00</text>
<rect x="709" y="827" width="1" height="3" fill="#000"/>
<text x="708" y="839" font-family="Liberation Sans" font-size="10" fill="#000" stroke="#000" stroke-width="0.2" textLength="54.1" lengthAdjust="spacingAndGlyphs" >31 Mar 12:00</text>
<rect x="773" y="827" width="1" height="3" fill="#000"/>
<text x="772" y="839" font-family="Liberation Sans" font-size="10" fill="#000" stroke="#000" stroke-width="0.2" textLength="48.2" lengthAdjust="spacingAndGlyphs" >3 Apr 04:00</text>
<rect x="837" y="827" width="1" height="3" fill="#000"/>
<text x="836" y="839" font-family="Liberation Sans" font-size="10" fill="#000" stroke="#000" stroke-width="0.2" textLength="48.4" lengthAdjust="spacingAndGlyphs" >3 Apr 20:00</text>
<rect x="901" y="827" width="1" height="3" fill="#000"/>
<text x="900" y="839" font-family="Liberation Sans" font-size="10" fill="#000" stroke="#000" stroke-width="0.2" textLength="48.6" lengthAdjust="spacingAndGlyphs" >4 Apr 12:00</text>
<rect x="965" y="827" width="1" height="3" fill="#000"/>
<text x="964" y="839" font-family="Liberation Sans" font-size="10" fill="#000" stroke="#000" stroke-width="0.2" textLength="48.4" lengthAdjust="spacingAndGlyphs" >5 Apr 04:00</text>
<rect x="1029" y="827" width="1" height="3" fill="#000"/>
<text x="1028" y="839" font-family="Liberation Sans" font-size="10" fill="#000" stroke="#000" stroke-width="0.2" textLength="48.4" lengthAdjust="spacingAndGlyphs" >5 Apr 20:00</text>
<rect x="1093" y="827" width="1" height="3" fill="#000"/>
<text x="1092" y="839" font-family="Liberation Sans" font-size="10" fill="#000" stroke="#000" stroke-width="0.2" textLength="48.4" lengthAdjust="spacingAndGlyphs" >6 Apr 12:00</text>
<rect x="1157" y="827" width="1" height="3" fill="#000"/>
<text x="1156" y="839" font-family="Liberation Sans" font-size="10" fill="#000" stroke="#000" stroke-width="0.2" textLength="48.1" lengthAdjust="spacingAndGlyphs" >7 Apr 04:00</text>
<rect x="1221" y="827" width="1" height="3" fill="#000"/>
<text x="1220" y="839" font-family="Liberation Sans" font-size="10" fill="#000" stroke="#000" stroke-width="0.2" textLength="48.4" lengthAdjust="spacingAndGlyphs" >9 Apr 23:00</text>
<rect x="1285" y="827" width="1" height="3" fill="#000"/>
<text x="1284" y="839" font-family="Liberation Sans" font-size="10" fill="#000" stroke="#000" stroke-width="0.2" textLength="52.8" lengthAdjust="spacingAndGlyphs" >10 Apr 12:00</text>
<rect x="1349" y="827" width="1" height="3" fill="#000"/>
<text x="1348" y="839" font-family="Liberation Sans" font-size="10" fill="#000" stroke="#000" stroke-width="0.2" textLength="52.8" lengthAdjust="spacingAndGlyphs" >11 Apr 04:00</text>
<rect x="1413" y="827" width="1" height="3" fill="#000"/>
<text x="1412" y="839" font-family="Liberation Sans" font-size="10" fill="#000" stroke="#000" stroke-width="0.2" textLength="52.8" lengthAdjust="spacingAndGlyphs" >11 Apr 20:00</text>
<text x="20.5" y="40" font-family="Liberation Sans" font-size="10" fill="#000" stroke="#000" stroke-width="0.2" textLength="56.5" lengthAdjust="spacingAndGlyphs" >EURUSD-,H4</text>
<text x="83.3" y="40" font-family="Liberation Sans" font-size="10" fill="#000" stroke="#000" stroke-width="0.2" textLength="32.2" lengthAdjust="spacingAndGlyphs" >1.09137</text>
<text x="119.5" y="40" font-family="Liberation Sans" font-size="10" fill="#000" stroke="#000" stroke-width="0.2" textLength="32" lengthAdjust="spacingAndGlyphs" >1.09151</text>
<text x="155.5" y="40" font-family="Liberation Sans" font-size="10" fill="#000" stroke="#000" stroke-width="0.2" textLength="32" lengthAdjust="spacingAndGlyphs" >1.09095</text>
<text x="191.3" y="40" font-family="Liberation Sans" font-size="10" fill="#000" stroke="#000" stroke-width="0.2" textLength="32.4" lengthAdjust="spacingAndGlyphs" >1.09097</text>
<path d="M8 35 L15 35 L11.5 39 Z" fill="#000" shape-rendering="auto"/>
<defs><pattern id="chk" width="2" height="2" patternUnits="userSpaceOnUse"><rect width="1" height="1" fill="#f0f0f0"/><rect x="1" y="1" width="1" height="1" fill="#f0f0f0"/></pattern><linearGradient id="pg" x1="0" y1="0" x2="1" y2="1"><stop offset="0" stop-color="#8cff8c"/><stop offset="0.5" stop-color="#10f020"/><stop offset="1" stop-color="#00b000"/></linearGradient><linearGradient id="gold" x1="0" y1="0" x2="0" y2="1"><stop offset="0" stop-color="#fbe070"/><stop offset="0.5" stop-color="#eec020"/><stop offset="1" stop-color="#d49a10"/></linearGradient><linearGradient id="bub" x1="0" y1="0" x2="0" y2="1"><stop offset="0" stop-color="#ed5a35"/><stop offset="1" stop-color="#d01a00"/></linearGradient><linearGradient id="clk" x1="0" y1="0" x2="1" y2="1"><stop offset="0" stop-color="#3aa0f8"/><stop offset="1" stop-color="#0a4ab8"/></linearGradient></defs>
<rect x="5" y="1" width="1" height="21" fill="#a0a0a0"/>
<rect x="6" y="1" width="1" height="21" fill="#ffffff"/>
<g shape-rendering="auto">
<path d="M15.5 5 Q15.5 4.3 16.3 4.3 H23.5 L26.6 7.5 V17 Q26.6 17.6 26 17.6 H16.2 Q15.5 17.6 15.5 17 Z" fill="#fff" stroke="#6a6a6a" stroke-width="0.9"/>
<path d="M23.5 4.5 V7.4 H26.5" fill="#d8d8d8" stroke="#6a6a6a" stroke-width="0.7"/>
<path d="M17.2 7 H19.6 M17.2 10.5 H22.5 M17.2 12.5 H21.5 M17.2 14.5 H19.5" stroke="#707070" stroke-width="0.9"/>
<path d="M23.3 10.4 H26.9 V14.2 H30.7 V17.6 H26.9 V21.4 H23.3 V17.6 H19.3 V14.2 H23.3 Z" fill="url(#pg)" stroke="#0c8a0c" stroke-width="0.9"/>
</g>
<g shape-rendering="auto"><path d="M96.6 11.8 L97.9 14.3 L90 20 L89.3 18.4 Z" fill="#efe2b0" stroke="#9a6200" stroke-width="0.7"/><path d="M87.7 5.2 L96.6 11.8 L89.3 18.4 L82.3 13.2 L86.6 8.6 Z" fill="url(#gold)" stroke="#9a6200" stroke-width="0.8"/><path d="M83.5 13.6 L89.6 17.8" stroke="#f4dc80" stroke-width="0.9"/></g>
<g shape-rendering="auto"><path d="M112.5 5 L114.5 4 H122.5 L123.5 5 V13.5 H112.5 Z" fill="#1a9af0" stroke="#1070d0" stroke-width="0.7"/><path d="M113.3 5 L115.2 7.5 V13" stroke="#bfe6ff" stroke-width="0.7" fill="none"/><rect x="117" y="8.5" width="5" height="1.6" fill="#d8f0ff"/><path d="M110.3 16.5 Q110.3 13.6 113.2 13.8 Q114.3 11.4 117.5 12 Q119.6 10.6 122 12.3 Q125.9 12.6 125.8 16 Q125.9 19.3 122.5 19.4 H113.2 Q110.3 19.3 110.3 16.5 Z" fill="#eef1f7" stroke="#4a649a" stroke-width="0.9"/><path d="M111.5 17.5 Q118 18.6 124.8 17.3" stroke="#b8c4d8" stroke-width="1.2" fill="none"/></g>
<defs><linearGradient id="sg" x1="0" y1="0" x2="1" y2="1"><stop offset="0" stop-color="#3a6ad8"/><stop offset="0.55" stop-color="#8ab0e0"/><stop offset="1" stop-color="#2a9a3a"/></linearGradient></defs>
<g shape-rendering="auto" fill="none"><circle cx="145.9" cy="11.8" r="7.3" stroke="url(#sg)" stroke-width="1.1" opacity="0.85"/><circle cx="145.9" cy="11.8" r="4.4" stroke="url(#sg)" stroke-width="1" opacity="0.8"/><path d="M146.2 12 L153 15 Q152 18.5 146.4 19.6 Z" fill="#9ad09a" opacity="0.6"/><circle cx="145.9" cy="11.6" r="1.9" fill="#2050c8"/><path d="M146.4 12 V19.6" stroke="#20a020" stroke-width="1.3"/></g>
<g shape-rendering="auto"><path d="M165.5 11.5 L181 10.8 L172.5 19.7 Z" fill="#f6dc48" stroke="#c8980c" stroke-width="0.7"/><ellipse cx="173.2" cy="8.9" rx="7.9" ry="2.5" fill="#6cbcec" stroke="#1e7aa8" stroke-width="0.8"/><path d="M169 8.6 Q169 3.9 172.8 3.9 Q176.6 3.9 176.6 8.6 Z" fill="#78c4f0" stroke="#1e7aa8" stroke-width="0.8"/><circle cx="177.4" cy="15.7" r="4.1" fill="#e02810" stroke="#b01400" stroke-width="0.6"/><rect x="176" y="14.3" width="2.9" height="2.8" fill="#fff"/></g>
<path d="M37 5h1v1h-1z M43 5h2v1h-2z M47 5h1v1h-1z M61 5h1v1h-1z M65 5h1v1h-1z M34 6h6v1h-6z M41 6h2v1h-2z M48 6h1v1h-1z M50 6h7v1h-7z M62 6h1v1h-1z M64 6h1v1h-1z M35 7h1v1h-1z M39 7h1v1h-1z M41 7h1v1h-1z M54 7h1v1h-1z M59 7h9v1h-9z M36 8h1v1h-1z M38 8h1v1h-1z M41 8h1v1h-1z M54 8h1v1h-1z M59 8h1v1h-1z M63 8h1v1h-1z M67 8h1v1h-1z M34 9h6v1h-6z M41 9h4v1h-4z M46 9h3v1h-3z M54 9h1v1h-1z M59 9h9v1h-9z M37 10h1v1h-1z M41 10h1v1h-1z M43 10h1v1h-1z M48 10h1v1h-1z M54 10h1v1h-1z M59 10h1v1h-1z M63 10h1v1h-1z M67 10h1v1h-1z M34 11h6v1h-6z M41 11h1v1h-1z M43 11h1v1h-1z M48 11h1v1h-1z M54 11h1v1h-1z M59 11h9v1h-9z M37 12h1v1h-1z M41 12h1v1h-1z M43 12h1v1h-1z M48 12h1v1h-1z M54 12h1v1h-1z M63 12h1v1h-1z M35 13h1v1h-1z M37 13h1v1h-1z M39 13h1v1h-1z M41 13h1v1h-1z M43 13h1v1h-1z M48 13h1v1h-1z M50 13h1v1h-1z M54 13h1v1h-1z M58 13h11v1h-11z M34 14h1v1h-1z M37 14h1v1h-1z M40 14h1v1h-1z M43 14h1v1h-1z M48 14h2v1h-2z M54 14h1v1h-1z M63 14h1v1h-1z M36 15h2v1h-2z M39 15h1v1h-1z M43 15h1v1h-1z M48 15h1v1h-1z M52 15h3v1h-3z M63 15h1v1h-1z" fill="#000"/>
<path d="M190 5h1v1h-1z M205 5h1v1h-1z M215 5h1v1h-1z M224 5h7v1h-7z M188 6h7v1h-7z M199 6h4v1h-4z M205 6h1v1h-1z M210 6h11v1h-11z M224 6h1v1h-1z M230 6h1v1h-1z M188 7h1v1h-1z M194 7h1v1h-1z M205 7h1v1h-1z M224 7h7v1h-7z M188 8h1v1h-1z M194 8h1v1h-1z M204 8h5v1h-5z M213 8h1v1h-1z M217 8h1v1h-1z M224 8h1v1h-1z M230 8h1v1h-1z M188 9h7v1h-7z M198 9h6v1h-6z M205 9h1v1h-1z M208 9h1v1h-1z M212 9h1v1h-1z M218 9h1v1h-1z M224 9h7v1h-7z M188 10h1v1h-1z M194 10h1v1h-1z M200 10h1v1h-1z M205 10h1v1h-1z M208 10h1v1h-1z M211 10h1v1h-1z M213 10h1v1h-1z M217 10h1v1h-1z M219 10h1v1h-1z M224 10h1v1h-1z M188 11h7v1h-7z M200 11h1v1h-1z M205 11h1v1h-1z M208 11h1v1h-1z M213 11h1v1h-1z M217 11h1v1h-1z M224 11h8v1h-8z M188 12h1v1h-1z M194 12h1v1h-1z M199 12h1v1h-1z M202 12h1v1h-1z M205 12h1v1h-1z M208 12h1v1h-1z M214 12h1v1h-1z M216 12h1v1h-1z M223 12h1v1h-1z M226 12h1v1h-1z M228 12h1v1h-1z M231 12h1v1h-1z M188 13h1v1h-1z M194 13h1v1h-1z M198 13h5v1h-5z M204 13h1v1h-1z M208 13h1v1h-1z M215 13h1v1h-1z M222 13h1v1h-1z M225 13h1v1h-1z M228 13h1v1h-1z M231 13h1v1h-1z M188 14h7v1h-7z M202 14h1v1h-1z M204 14h1v1h-1z M208 14h1v1h-1z M213 14h2v1h-2z M216 14h2v1h-2z M224 14h1v1h-1z M227 14h1v1h-1z M231 14h1v1h-1z M188 15h1v1h-1z M194 15h1v1h-1z M203 15h1v1h-1z M206 15h2v1h-2z M211 15h2v1h-2z M218 15h3v1h-3z M223 15h1v1h-1z M226 15h1v1h-1z M229 15h2v1h-2z" fill="#000"/>
<rect x="241" y="0" width="1" height="24" fill="#a0a0a0"/>
<rect x="242" y="0" width="1" height="23" fill="#ffffff"/>
<rect x="245" y="2" width="3" height="1" fill="#929292"/>
<rect x="245" y="4" width="3" height="1" fill="#929292"/>
<rect x="245" y="6" width="3" height="1" fill="#929292"/>
<rect x="245" y="8" width="3" height="1" fill="#929292"/>
<rect x="245" y="10" width="3" height="1" fill="#929292"/>
<rect x="245" y="12" width="3" height="1" fill="#929292"/>
<rect x="245" y="14" width="3" height="1" fill="#929292"/>
<rect x="245" y="16" width="3" height="1" fill="#929292"/>
<rect x="245" y="18" width="3" height="1" fill="#929292"/>
<rect x="245" y="20" width="3" height="1" fill="#929292"/>
<g shape-rendering="auto" stroke="#505050" fill="none" stroke-width="1.2"><path d="M259.4 6 V19.7 M257 17.5 H271 M257.8 7.9 L259.4 6 L261 7.9 M269.2 15.9 L271 17.5 L269.2 19.1"/></g>
<path d="M265.5 7 V15.7 M263 14.4 H265.5 M265.5 8.4 H268" stroke="#108a10" stroke-width="1.2" fill="none" shape-rendering="auto"/>
<rect x="279" y="0" width="25" height="22" fill="#ffffff"/>
<rect x="279" y="0" width="25" height="22" fill="url(#chk)"/>
<rect x="279" y="0" width="25" height="1" fill="#a0a0a0"/>
<rect x="279" y="0" width="1" height="22" fill="#a0a0a0"/>
<rect x="304" y="0" width="1" height="23" fill="#ffffff"/>
<rect x="279" y="22" width="26" height="1" fill="#ffffff"/>
<g shape-rendering="auto" stroke="#505050" fill="none" stroke-width="1.2"><path d="M287.5 6 V19.7 M285 17.5 H299 M285.9 7.9 L287.5 6 L289.1 7.9 M297.2 15.9 L299 17.5 L297.2 19.1"/></g>
<rect x="291.4" y="6.4" width="4.2" height="7.2" fill="url(#pg)" stroke="#0a8a0a" stroke-width="1" shape-rendering="auto"/><path d="M293.3 4 V6.5 M293.3 14 V16" stroke="#109010" stroke-width="1.2" shape-rendering="auto"/>
<g shape-rendering="auto" stroke="#505050" fill="none" stroke-width="1.2"><path d="M315.5 6 V19.7 M313 17.5 H327 M313.9 7.9 L315.5 6 L317.1 7.9 M325.2 15.9 L327 17.5 L325.2 19.1"/></g>
<path d="M314.2 14.6 Q317.5 9 320 9.1 Q322.5 9.2 325.6 13.1" stroke="#2a9a2a" stroke-width="1.1" fill="none" shape-rendering="auto"/>
<rect x="336" y="1" width="1" height="21" fill="#a0a0a0"/>
<rect x="337" y="1" width="1" height="21" fill="#ffffff"/>
<g shape-rendering="auto"><path d="M354.2 13.2 L359.8 18.8" stroke="#a86a00" stroke-width="3.4" stroke-linecap="butt"/><path d="M354.2 13.2 L359.8 18.8" stroke="#f0d850" stroke-width="1.8"/><circle cx="351" cy="9.8" r="5.4" fill="#dff2ff" stroke="#2a70c0" stroke-width="1.2"/><path d="M348.2 9.8 H353.8 M351 7 V12.6" stroke="#3a7aa8" stroke-width="1.7"/></g>
<g shape-rendering="auto"><path d="M382.2 13.2 L387.8 18.8" stroke="#a86a00" stroke-width="3.4" stroke-linecap="butt"/><path d="M382.2 13.2 L387.8 18.8" stroke="#f0d850" stroke-width="1.8"/><circle cx="379" cy="9.8" r="5.4" fill="#dff2ff" stroke="#2a70c0" stroke-width="1.2"/><path d="M376.2 9.8 H381.8" stroke="#3a7aa8" stroke-width="1.7"/></g>
<rect x="401" y="4" width="8" height="8" fill="#2a9a18"/>
<rect x="402" y="6.5" width="6" height="4.5" fill="#ffffff" shape-rendering="auto"/>
<rect x="403" y="7.6" width="4" height="1" fill="#9ad890" shape-rendering="auto"/>
<rect x="402" y="5" width="1" height="1" fill="#d0e8ff"/>
<rect x="409" y="4" width="8" height="8" fill="#1848c8"/>
<rect x="410" y="6.5" width="6" height="4.5" fill="#ffffff" shape-rendering="auto"/>
<rect x="411" y="7.6" width="4" height="1" fill="#8aa8e8" shape-rendering="auto"/>
<rect x="410" y="5" width="1" height="1" fill="#d0e8ff"/>
<rect x="401" y="12" width="8" height="8" fill="#1848c8"/>
<rect x="402" y="14.5" width="6" height="4.5" fill="#ffffff" shape-rendering="auto"/>
<rect x="403" y="15.6" width="4" height="1" fill="#8aa8e8" shape-rendering="auto"/>
<rect x="402" y="13" width="1" height="1" fill="#d0e8ff"/>
<rect x="409" y="12" width="8" height="8" fill="#2a9a18"/>
<rect x="410" y="14.5" width="6" height="4.5" fill="#ffffff" shape-rendering="auto"/>
<rect x="411" y="15.6" width="4" height="1" fill="#9ad890" shape-rendering="auto"/>
<rect x="410" y="13" width="1" height="1" fill="#d0e8ff"/>
<rect x="426" y="1" width="1" height="21" fill="#a0a0a0"/>
<rect x="427" y="1" width="1" height="21" fill="#ffffff"/>
<rect x="431" y="0" width="25" height="22" fill="#ffffff"/>
<rect x="431" y="0" width="25" height="22" fill="url(#chk)"/>
<rect x="431" y="0" width="25" height="1" fill="#a0a0a0"/>
<rect x="431" y="0" width="1" height="22" fill="#a0a0a0"/>
<rect x="456" y="0" width="1" height="23" fill="#ffffff"/>
<rect x="431" y="22" width="26" height="1" fill="#ffffff"/>
<g shape-rendering="auto" stroke="#505050" fill="none" stroke-width="1.2"><path d="M439 6 V20 M437 17.5 H451 M437.5 8 L439 6 L440.5 8 M449 16 L451 17.5 L449 19"/></g>
<path d="M444 8.5 L448 11.5 L444 14.5 Z" fill="#30c030" stroke="#108010" stroke-width="0.8" shape-rendering="auto"/>
<rect x="459" y="0" width="25" height="22" fill="#ffffff"/>
<rect x="459" y="0" width="25" height="22" fill="url(#chk)"/>
<rect x="459" y="0" width="25" height="1" fill="#a0a0a0"/>
<rect x="459" y="0" width="1" height="22" fill="#a0a0a0"/>
<rect x="484" y="0" width="1" height="23" fill="#ffffff"/>
<rect x="459" y="22" width="26" height="1" fill="#ffffff"/>
<g shape-rendering="auto" stroke="#505050" fill="none" stroke-width="1.2"><path d="M467 6 V20 M465 17.5 H479 M465.5 8 L467 6 L468.5 8 M477 16 L479 17.5 L477 19"/></g>
<path d="M473.5 6 V15.5" stroke="#2060b0" stroke-width="1.2" shape-rendering="auto"/><path d="M479 11.5 H475 M477 9.5 L475 11.5 L477 13.5" stroke="#e05010" stroke-width="1.4" fill="none" shape-rendering="auto"/>
<rect x="488" y="1" width="1" height="21" fill="#a0a0a0"/>
<rect x="489" y="1" width="1" height="21" fill="#ffffff"/>
<g shape-rendering="auto"><path d="M498.5 5 Q498.5 4.4 499.2 4.4 H505.5 L508.8 7.6 V17 Q508.8 17.5 508.2 17.5 H499.2 Q498.5 17.5 498.5 17 Z" fill="#fff" stroke="#6a6a6a" stroke-width="0.9"/><path d="M505.5 4.6 V7.5 H508.6" fill="#d8d8d8" stroke="#6a6a6a" stroke-width="0.7"/><path d="M502 7 Q501 7 501 8.5 V14 M500.5 10.5 H502" stroke="#707070" stroke-width="0.8" fill="none"/><path d="M506.1 10.4 H509.8 V14.1 H513.8 V17.8 H509.8 V21.8 H506.1 V17.8 H502.1 V14.1 H506.1 Z" fill="url(#pg)" stroke="#0c8a0c" stroke-width="0.9"/></g>
<path d="M519.5 11 H525.5 L522.5 14.5 Z" fill="#000" shape-rendering="auto"/>
<g shape-rendering="auto"><circle cx="544" cy="12" r="7.9" fill="url(#clk)"/><circle cx="544" cy="12" r="5.6" fill="#f2f8ff" stroke="#6aa8e8" stroke-width="0.5"/><path d="M543.6 8.3 V12.1 H546.4" stroke="#202020" stroke-width="1" fill="none"/><path d="M544 7 V7.8 M544 16.2 V17 M539 12 H539.8 M548.2 12 H549" stroke="#9a9a9a" stroke-width="0.7"/></g>
<path d="M558.5 11 H564.5 L561.5 14.5 Z" fill="#000" shape-rendering="auto"/>
<g shape-rendering="auto"><rect x="575.5" y="5.5" width="15" height="13" fill="#fff" stroke="#2a6ac0" stroke-width="1.1"/><rect x="576" y="6" width="14" height="1.6" fill="#4a8ad8"/><path d="M577 11 L579 10.8 L581 9.8 L583 10.5 L585 10.3 L587 9.4 L589 9.6" stroke="#b02010" stroke-width="1" fill="none"/><path d="M576 13.2 H590" stroke="#2a6ac0" stroke-width="0.8"/><path d="M577 16.2 L579 15.6 L581 16 L583 15 L585 14.3 L587 15.8 L589 15.2" stroke="#20a020" stroke-width="1" fill="none"/></g>
<path d="M597.5 11 H603.5 L600.5 14.5 Z" fill="#000" shape-rendering="auto"/>
<rect x="609" y="0" width="1" height="24" fill="#a0a0a0"/>
<rect x="610" y="0" width="1" height="23" fill="#ffffff"/>
<rect x="613" y="2" width="3" height="1" fill="#929292"/>
<rect x="613" y="4" width="3" height="1" fill="#929292"/>
<rect x="613" y="6" width="3" height="1" fill="#929292"/>
<rect x="613" y="8" width="3" height="1" fill="#929292"/>
<rect x="613" y="10" width="3" height="1" fill="#929292"/>
<rect x="613" y="12" width="3" height="1" fill="#929292"/>
<rect x="613" y="14" width="3" height="1" fill="#929292"/>
<rect x="613" y="16" width="3" height="1" fill="#929292"/>
<rect x="613" y="18" width="3" height="1" fill="#929292"/>
<rect x="613" y="20" width="3" height="1" fill="#929292"/>
<rect x="619" y="0" width="25" height="22" fill="#ffffff"/>
<rect x="619" y="0" width="25" height="22" fill="url(#chk)"/>
<rect x="619" y="0" width="25" height="1" fill="#a0a0a0"/>
<rect x="619" y="0" width="1" height="22" fill="#a0a0a0"/>
<rect x="644" y="0" width="1" height="23" fill="#ffffff"/>
<rect x="619" y="22" width="26" height="1" fill="#ffffff"/>
<path d="M627 5 L627 17 L630 14.5 L632.5 19 L634.5 18 L632 13.5 L635.5 13 Z" fill="#404040" shape-rendering="auto"/>
<path d="M652 12.5 H667 M659.5 5 V20" stroke="#404040" stroke-width="1.1" shape-rendering="auto"/>
<rect x="676" y="1" width="1" height="21" fill="#a0a0a0"/>
<rect x="677" y="1" width="1" height="21" fill="#ffffff"/>
<rect x="693" y="6" width="1" height="13" fill="#404040"/>
<rect x="716" y="12" width="12" height="1" fill="#404040"/>
<path d="M743.5 18.5 L756.5 7" stroke="#404040" stroke-width="1.1" shape-rendering="auto"/>
<g shape-rendering="auto" stroke="#404040" stroke-width="1" fill="none"><path d="M770 14 L783 6 M771.5 18 L784 10 M773 8 L775 20 M776 7 L778 18 M779 5 L781 15"/></g>
<text x="780.5" y="20.5" font-family="Liberation Sans" font-size="7" fill="#404040" stroke="#404040" stroke-width="0.2" font-weight="bold" >E</text>
<line x1="799" y1="5.5" x2="812" y2="5.5" stroke="#404040" stroke-width="1" stroke-dasharray="1,1"/>
<line x1="799" y1="8.5" x2="812" y2="8.5" stroke="#404040" stroke-width="1" stroke-dasharray="1,1"/>
<line x1="799" y1="11.5" x2="812" y2="11.5" stroke="#404040" stroke-width="1" stroke-dasharray="1,1"/>
<line x1="799" y1="14.5" x2="812" y2="14.5" stroke="#404040" stroke-width="1" stroke-dasharray="1,1"/>
<text x="808" y="20.5" font-family="Liberation Sans" font-size="7" fill="#404040" stroke="#404040" stroke-width="0.2" font-weight="bold" >F</text>
<text x="829.5" y="17" font-family="Liberation Sans" font-size="11.5" fill="#505050" stroke="#505050" stroke-width="0.2" textLength="7.8" lengthAdjust="spacingAndGlyphs" >A</text>
<rect x="855.5" y="6.5" width="12" height="12" fill="none" stroke="#505050" stroke-width="1" stroke-dasharray="1,1"/>
<text x="858" y="16.5" font-family="Liberation Sans" font-size="11.5" fill="#505050" stroke="#505050" stroke-width="0.2" textLength="7" lengthAdjust="spacingAndGlyphs" >T</text>
<g shape-rendering="auto" fill="#404040"><path d="M886.5 5.5 L890 8.2 L886.5 10.8 L883 8.2 Z"/><path d="M893.5 13.2 L897 16 L893.5 19 L890 16 Z"/><path d="M885.5 13 L887.5 15.5 L891.5 11" stroke="#404040" fill="none" stroke-width="1.1"/></g>
<path d="M903.5 11 H909.5 L906.5 14.5 Z" fill="#000" shape-rendering="auto"/>
<rect x="915" y="0" width="1" height="24" fill="#a0a0a0"/>
<rect x="916" y="0" width="1" height="23" fill="#ffffff"/>
<rect x="919" y="2" width="3" height="1" fill="#929292"/>
<rect x="919" y="4" width="3" height="1" fill="#929292"/>
<rect x="919" y="6" width="3" height="1" fill="#929292"/>
<rect x="919" y="8" width="3" height="1" fill="#929292"/>
<rect x="919" y="10" width="3" height="1" fill="#929292"/>
<rect x="919" y="12" width="3" height="1" fill="#929292"/>
<rect x="919" y="14" width="3" height="1" fill="#929292"/>
<rect x="919" y="16" width="3" height="1" fill="#929292"/>
<rect x="919" y="18" width="3" height="1" fill="#929292"/>
<rect x="919" y="20" width="3" height="1" fill="#929292"/>
<rect x="1065" y="0" width="25" height="22" fill="#ffffff"/>
<rect x="1065" y="0" width="25" height="22" fill="url(#chk)"/>
<rect x="1065" y="0" width="25" height="1" fill="#a0a0a0"/>
<rect x="1065" y="0" width="1" height="22" fill="#a0a0a0"/>
<rect x="1090" y="0" width="1" height="23" fill="#ffffff"/>
<rect x="1065" y="22" width="26" height="1" fill="#ffffff"/>
<text x="930.5" y="16" font-family="Liberation Sans" font-size="9.6" fill="#303030" stroke="#303030" stroke-width="0.2" textLength="12.5" lengthAdjust="spacingAndGlyphs" >M1</text>
<text x="958.5" y="16" font-family="Liberation Sans" font-size="9.6" fill="#303030" stroke="#303030" stroke-width="0.2" textLength="12.5" lengthAdjust="spacingAndGlyphs" >M5</text>
<text x="984.5" y="16" font-family="Liberation Sans" font-size="9.6" fill="#303030" stroke="#303030" stroke-width="0.2" textLength="17.5" lengthAdjust="spacingAndGlyphs" >M15</text>
<text x="1012.5" y="16" font-family="Liberation Sans" font-size="9.6" fill="#303030" stroke="#303030" stroke-width="0.2" textLength="17.5" lengthAdjust="spacingAndGlyphs" >M30</text>
<text x="1043.5" y="16" font-family="Liberation Sans" font-size="9.6" fill="#303030" stroke="#303030" stroke-width="0.2" textLength="11.5" lengthAdjust="spacingAndGlyphs" >H1</text>
<text x="1070.5" y="16" font-family="Liberation Sans" font-size="9.6" fill="#303030" stroke="#303030" stroke-width="0.2" textLength="12.5" lengthAdjust="spacingAndGlyphs" >H4</text>
<text x="1099.5" y="16" font-family="Liberation Sans" font-size="9.6" fill="#303030" stroke="#303030" stroke-width="0.2" textLength="11.5" lengthAdjust="spacingAndGlyphs" >D1</text>
<text x="1127" y="16" font-family="Liberation Sans" font-size="9.6" fill="#303030" stroke="#303030" stroke-width="0.2" textLength="14.3" lengthAdjust="spacingAndGlyphs" >W1</text>
<text x="1153.5" y="16" font-family="Liberation Sans" font-size="9.6" fill="#303030" stroke="#303030" stroke-width="0.2" textLength="14.8" lengthAdjust="spacingAndGlyphs" >MN</text>
<rect x="1176" y="0" width="1" height="24" fill="#a0a0a0"/>
<rect x="1177" y="0" width="1" height="23" fill="#ffffff"/>
<g shape-rendering="auto"><circle cx="1646.5" cy="9.3" r="3.8" fill="#fff" stroke="#2a5cd0" stroke-width="1.3"/><path d="M1643.5 12.5 L1639.5 16.8" stroke="#2a5cd0" stroke-width="2.4" stroke-linecap="round"/><ellipse cx="1668.5" cy="14.3" rx="5.8" ry="4.8" fill="#e4e6ee" stroke="#a0a0a0" stroke-width="0.9"/><path d="M1666 18.5 L1666.5 21 L1669 19" fill="#c0c0c0"/><circle cx="1677.4" cy="9.2" r="8.2" fill="url(#bub)"/></g>
<text x="1674" y="14" font-family="Liberation Serif" font-size="12.5" font-weight="bold" fill="#fff">1</text>
</svg>
</body></html>
